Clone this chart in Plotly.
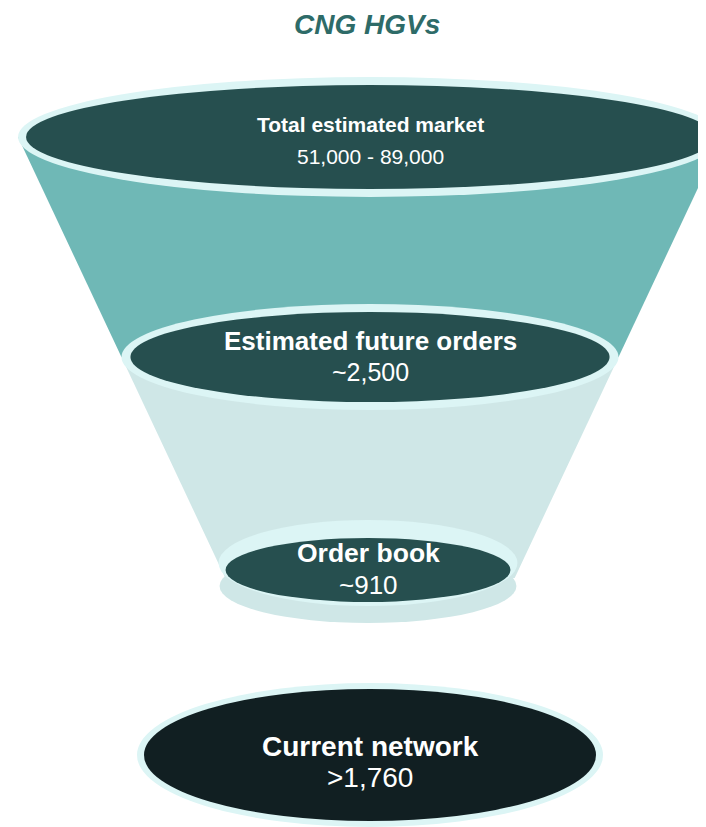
import plotly.graph_objects as go

# ---- data ----
title_text = "CNG HGVs"
stages = ["Total estimated market", "Estimated future orders", "Order book", "Current network"]
values = ["51,000 - 89,000", "~2,500", "~910", ">1,760"]

# ---- styling / geometry (pixel-like coordinates, y downwards) ----
W, H = 706, 827
PAGE_OFF = 8  # default body margin of the html page
CX = 370
CONE_TOP_Y, CONE_TOP_HW, CONE_SLOPE = 155, 343.5, 0.47
BORDER = 8
TEAL = "#6fb8b6"
LIGHT = "#cfe7e7"
RIM = "#dcf5f5"
DARK = "#264f4f"
DARKEST = "#111f22"
TITLE_COL = "#2e6b68"

level_y = [137, 357, 570]       # centre line of each funnel level
level_hh = [52, 45, 32]          # half-height of the dark ellipses
label_y = [(124, 156), (341, 372), (553, 585), (746, 777)]
label_size = [(21, 21), (26, 25), (26.5, 26), (28, 28)]
bottom = dict(cy=755, hw=226, hh=66)


def cone_hw(y):
    return CONE_TOP_HW - CONE_SLOPE * (y - CONE_TOP_Y)


def ellipse(cx, cy, hw, hh, color):
    return dict(type="circle", xref="x", yref="y", x0=cx - hw, x1=cx + hw,
                y0=cy - hh, y1=cy + hh, fillcolor=color,
                line=dict(width=0), layer="above")


def trapezoid(y0, y1, color):
    a, b = cone_hw(y0), cone_hw(y1)
    path = (f"M {CX - a},{y0} L {CX + a},{y0} L {CX + b},{y1} "
            f"L {CX - b},{y1} Z")
    return dict(type="path", xref="x", yref="y", path=path, fillcolor=color,
                line=dict(width=0), layer="above")


shapes = []
shapes.append(trapezoid(level_y[0], level_y[1], TEAL))
shapes.append(trapezoid(level_y[1], level_y[2] + 8, LIGHT))

# top level
hw0 = cone_hw(level_y[0])
shapes.append(ellipse(CX, level_y[0], hw0, level_hh[0] + BORDER, RIM))
shapes.append(ellipse(CX, level_y[0], hw0 - BORDER, level_hh[0], DARK))

# third level (with base)
cx3 = CX - 2
hw2 = cone_hw(level_y[2])
shapes.append(ellipse(cx3, level_y[2] + 16, hw2, level_hh[2] + 5, LIGHT))
shapes.append(ellipse(cx3, level_y[2] - 7, hw2 + 1, level_hh[2] + 11, RIM))
shapes.append(ellipse(cx3, level_y[2], hw2 - BORDER + 2, level_hh[2], DARK))

# second level
hw1 = cone_hw(level_y[1])
shapes.append(ellipse(CX, level_y[1], hw1, level_hh[1] + BORDER, RIM))
shapes.append(ellipse(CX, level_y[1], hw1 - BORDER - 1, level_hh[1], DARK))

# bottom (current network)
shapes.append(ellipse(CX, bottom["cy"], bottom["hw"] + 7, bottom["hh"] + 6, RIM))
shapes.append(ellipse(CX, bottom["cy"], bottom["hw"], bottom["hh"], DARKEST))

FAM = "Liberation Sans, Arial, sans-serif"
annotations = [dict(text=f"<b><i>{title_text}</i></b>", x=CX - 3, y=PAGE_OFF,
                    yanchor="top", xref="x", yref="y", showarrow=False,
                    borderpad=0,
                    font=dict(family=FAM, size=28, color=TITLE_COL))]
for i, (st, val) in enumerate(zip(stages, values)):
    cx = cx3 if i == 2 else CX
    s1, s2 = label_size[i]
    annotations.append(dict(text=f"<b>{st}</b>", x=cx, y=label_y[i][0],
                            xref="x", yref="y", showarrow=False,
                            font=dict(family=FAM, size=s1, color="white")))
    annotations.append(dict(text=val, x=cx, y=label_y[i][1],
                            xref="x", yref="y", showarrow=False,
                            font=dict(family=FAM, size=s2, color="white")))

fig = go.Figure()
fig.update_layout(
    width=W, height=H, autosize=False,
    margin=dict(l=0, r=0, t=0, b=0),
    paper_bgcolor="white", plot_bgcolor="white",
    xaxis=dict(range=[PAGE_OFF, W + PAGE_OFF], visible=False, fixedrange=True),
    yaxis=dict(range=[H + PAGE_OFF, PAGE_OFF], visible=False, fixedrange=True),
    shapes=shapes, annotations=annotations, showlegend=False,
)
fig.write_html("out.html")
